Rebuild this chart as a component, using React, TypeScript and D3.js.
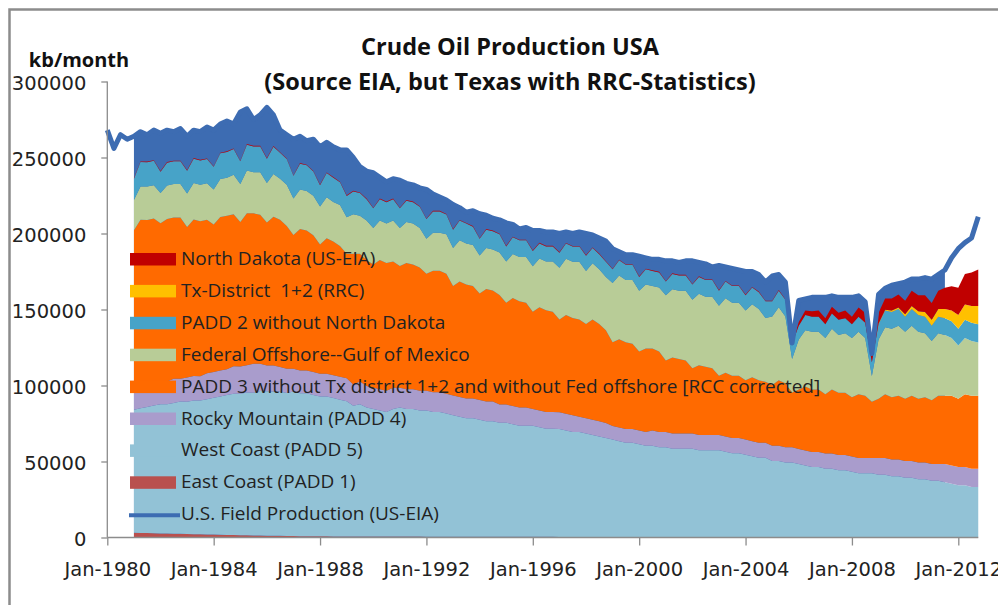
import { useEffect, useRef } from "react";
import * as d3 from "d3";

// Quarterly points (Jan, Apr, Jul, Oct), values in thousand kb/month
// Stacked layers run 1981-01 .. 2012-10, field production 1980-01 .. 2012-10
const stackDates = d3.timeMonth.every(3)!.range(new Date(1981, 0, 1), new Date(2013, 0, 1));
const totalDates = d3.timeMonth.every(3)!.range(new Date(1980, 0, 1), new Date(2013, 0, 1));

const eastCoast = [
  3.1, 3.0, 2.9, 2.8, 2.7, 2.6, 2.5, 2.5, 2.3, 2.2, 2.1, 2.0, 1.9, 1.8, 1.7, 1.6,
  1.5, 1.4, 1.3, 1.3, 1.2, 1.1, 1.1, 1.0, 1.0, 0.9, 0.9, 0.8, 0.8, 0.8, 0.7, 0.7,
  0.7, 0.7, 0.6, 0.6, 0.6, 0.6, 0.6, 0.6, 0.6, 0.6, 0.6, 0.6, 0.5, 0.5, 0.5, 0.5,
  0.5, 0.5, 0.5, 0.5, 0.5, 0.5, 0.5, 0.5, 0.5, 0.5, 0.5, 0.5, 0.5, 0.5, 0.5, 0.5,
  0.4, 0.4, 0.4, 0.4, 0.4, 0.4, 0.4, 0.4, 0.4, 0.4, 0.4, 0.4, 0.4, 0.4, 0.4, 0.4,
  0.4, 0.4, 0.4, 0.4, 0.4, 0.4, 0.4, 0.4, 0.4, 0.4, 0.4, 0.4, 0.4, 0.4, 0.4, 0.4,
  0.4, 0.4, 0.4, 0.4, 0.3, 0.3, 0.3, 0.3, 0.3, 0.3, 0.3, 0.3, 0.3, 0.3, 0.3, 0.3,
  0.3, 0.3, 0.3, 0.3, 0.3, 0.3, 0.3, 0.3, 0.3, 0.3, 0.3, 0.3, 0.3, 0.3, 0.3, 0.3,
];

const westCoast = [
  81, 82, 83, 84, 85, 85, 86, 87, 87, 88, 88, 89, 90, 91, 92, 93,
  93, 94, 94, 95, 95, 95, 95, 94, 95, 94, 94, 93, 92, 92, 91, 90,
  89, 86, 87, 85, 84, 83, 82, 84, 85, 84, 84, 83, 83, 82, 82, 81,
  80, 79, 78, 78, 77, 76, 76, 75, 75, 74, 73, 73, 73, 72, 71, 71,
  71, 70, 69, 69, 68, 67, 66, 65, 64, 63, 62, 62, 61, 60, 60, 59,
  59, 58, 58, 58, 58, 57, 57, 57, 57, 56, 55, 55, 54, 53, 52, 52,
  50, 50, 49, 49, 48, 47, 46, 46, 45, 45, 44, 44, 43, 42, 42, 42,
  41, 41, 40, 40, 39, 39, 38, 38, 37, 37, 36, 35, 34, 34, 33, 33,
];

const rockyMountain = [
  15, 15, 15, 15, 15, 15, 16, 15, 16, 16, 16, 17, 17, 17, 17, 18,
  18, 18, 19, 18, 17, 17, 16, 16, 15, 15, 15, 15, 15, 15, 15, 15,
  15, 14, 15, 14, 14, 14, 14, 14, 13, 13, 13, 13, 13, 13, 13, 13,
  13, 13, 13, 13, 13, 13, 13, 12, 12, 12, 12, 12, 11, 11, 11, 11,
  11, 11, 11, 10, 10, 10, 10, 10, 9, 9, 9, 9, 9, 9, 10, 10,
  10, 10, 10, 10, 10, 10, 10, 10, 10, 10, 10, 10, 10, 10, 10, 10,
  10, 10, 10, 10, 10, 10, 10, 10, 10, 10, 10, 10, 10, 10, 10, 10,
  11, 11, 11, 11, 11, 11, 11, 11, 11, 11, 12, 12, 12, 12, 12, 12,
];

const padd3 = [
  103, 109, 108, 108, 104, 107, 106, 106, 99, 103, 102, 101, 97, 101, 101, 100,
  95, 100, 99, 98, 94, 98, 97, 94, 88, 93, 92, 90, 85, 89, 88, 86,
  82, 86, 84, 83, 81, 85, 84, 83, 80, 83, 82, 81, 77, 80, 80, 79,
  72, 76, 75, 74, 70, 74, 73, 72, 67, 71, 70, 69, 64, 68, 67, 66,
  61, 65, 64, 64, 62, 66, 64, 61, 55, 58, 57, 56, 52, 55, 54, 53,
  47, 50, 49, 48, 43, 46, 45, 44, 39, 42, 41, 41, 39, 42, 41, 40,
  40, 43, 42, 36, 39, 42, 41, 41, 39, 42, 41, 41, 39, 42, 41, 37,
  39, 42, 41, 42, 41, 43, 42, 43, 42, 45, 45, 46, 45, 48, 48, 48,
];

const gulfOffshore = [
  20, 22, 22, 22, 20, 22, 22, 22, 22, 24, 24, 24, 23, 25, 25, 26,
  25, 28, 27, 28, 26, 28, 27, 27, 24, 26, 26, 26, 25, 27, 26, 27,
  24, 26, 25, 26, 24, 26, 26, 27, 25, 27, 27, 26, 23, 25, 25, 26,
  25, 27, 27, 27, 25, 27, 27, 28, 27, 29, 29, 30, 30, 32, 32, 33,
  34, 37, 37, 38, 35, 37, 36, 35, 39, 42, 41, 42, 40, 42, 41, 42,
  43, 45, 45, 46, 45, 47, 46, 47, 46, 49, 48, 48, 46, 48, 47, 42,
  45, 48, 44, 22, 33, 37, 38, 38, 37, 40, 38, 39, 39, 41, 38, 17,
  39, 44, 45, 46, 44, 46, 44, 42, 39, 41, 40, 38, 35, 37, 36, 35,
];

const padd2 = [
  14, 16, 16, 16, 14, 15, 15, 15, 15, 16, 16, 16, 15, 17, 17, 17,
  15, 17, 17, 17, 16, 18, 17, 17, 15, 17, 17, 16, 14, 16, 16, 15,
  14, 15, 15, 14, 13, 14, 14, 14, 13, 14, 14, 14, 13, 14, 14, 13,
  12, 13, 13, 12, 11, 12, 12, 12, 10, 11, 11, 11, 10, 10, 10, 10,
  10, 10, 10, 10, 10, 10, 10, 10, 9, 10, 10, 10, 9, 10, 10, 10,
  9, 10, 10, 10, 10, 11, 11, 11, 10, 11, 11, 11, 10, 11, 11, 11,
  10, 11, 11, 10, 9, 10, 10, 10, 9, 10, 10, 10, 9, 10, 10, 9,
  10, 11, 11, 11, 10, 11, 11, 11, 10, 11, 11, 11, 11, 12, 12, 12,
];

const txDistrict = [
  0, 0, 0, 0, 0, 0, 0, 0, 0, 0, 0, 0, 0, 0, 0, 0,
  0, 0, 0, 0, 0, 0, 0, 0, 0, 0, 0, 0, 0, 0, 0, 0,
  0, 0, 0, 0, 0, 0, 0, 0, 0, 0, 0, 0, 0, 0, 0, 0,
  0, 0, 0, 0, 0, 0, 0, 0, 0, 0, 0, 0, 0, 0, 0, 0,
  0, 0, 0, 0, 0, 0, 0, 0, 0, 0, 0, 0, 0, 0, 0, 0,
  0, 0, 0, 0, 0, 0, 0, 0, 0, 0, 0, 0, 0, 0, 0, 0,
  0, 0, 0, 0, 0, 0, 0, 0, 0, 0, 0, 0, 0, 0, 0, 0,
  0.5, 0.5, 1, 1, 1.5, 2, 2.5, 3, 4, 5, 6, 7, 9, 10, 11, 12,
];

const northDakota = [
  0.4, 0.4, 0.4, 0.4, 0.4, 0.4, 0.4, 0.4, 0.4, 0.4, 0.4, 0.4, 0.4, 0.4, 0.4, 0.4,
  0.4, 0.4, 0.4, 0.4, 0.4, 0.4, 0.4, 0.4, 0.4, 0.4, 0.4, 0.4, 0.4, 0.4, 0.4, 0.4,
  0.4, 0.4, 0.4, 0.4, 0.4, 0.4, 0.4, 0.4, 0.4, 0.4, 0.4, 0.4, 0.4, 0.4, 0.4, 0.4,
  0.4, 0.4, 0.4, 0.4, 0.4, 0.4, 0.4, 0.4, 0.4, 0.4, 0.4, 0.4, 0.4, 0.4, 0.4, 0.4,
  0.4, 0.4, 0.4, 0.4, 0.4, 0.4, 0.4, 0.4, 0.4, 0.4, 0.4, 0.4, 0.4, 0.4, 0.4, 0.4,
  0.4, 0.4, 0.4, 0.4, 0.4, 0.4, 0.4, 0.4, 0.4, 0.4, 0.4, 0.4, 0.4, 0.4, 0.4, 0.4,
  0.4, 0.4, 0.4, 0.4, 2.5, 3, 3.5, 4, 4, 4.5, 4.5, 5, 5, 6, 6.5, 6,
  7, 7.5, 8, 8.5, 9, 10, 10.5, 11, 11, 12, 14, 16, 18, 20, 22, 24,
];

const fieldProduction = [
  268, 256, 265, 262,
  264, 267, 265, 268, 266, 268, 267, 269, 264, 268, 267, 270, 268, 272, 274, 272,
  280, 282, 275, 278, 283, 278, 268, 265, 262, 264, 261, 262, 257, 260, 257, 255,
  255, 250, 244, 241, 240, 237, 234, 236, 235, 233, 232, 230, 229, 226, 224, 222,
  219, 217, 214, 215, 213, 212, 210, 209, 207, 206, 203, 204, 202, 202, 201, 201,
  200, 201, 200, 201, 200, 199, 197, 195, 190, 188, 186, 186, 185, 184, 183, 183,
  182, 182, 181, 182, 182, 181, 180, 178, 179, 178, 177, 176, 175, 175, 173, 168,
  172, 173, 168, 128, 156, 157, 158, 158, 158, 159, 158, 158, 158, 159, 155, 121,
  160, 164, 166, 167, 168, 170, 170, 171, 170, 173, 176, 184, 190, 194, 197, 211,
];

const yTicks = [0, 50000, 100000, 150000, 200000, 250000, 300000];

const series = [
  { key: "eastCoast", values: eastCoast, color: "#b9504e", label: "East Coast (PADD 1)" },
  { key: "westCoast", values: westCoast, color: "#92c2d6", label: "West Coast (PADD 5)" },
  { key: "rocky", values: rockyMountain, color: "#a99ccc", label: "Rocky Mountain (PADD 4)" },
  { key: "padd3", values: padd3, color: "#ff6a00", label: "PADD 3 without Tx district 1+2 and without Fed offshore [RCC corrected]" },
  { key: "gulf", values: gulfOffshore, color: "#b8cc97", label: "Federal Offshore--Gulf of Mexico" },
  { key: "padd2", values: padd2, color: "#47a3c8", label: "PADD 2 without North Dakota" },
  { key: "tx", values: txDistrict, color: "#ffc000", label: "Tx-District  1+2 (RRC)" },
  { key: "nd", values: northDakota, color: "#c00000", label: "North Dakota (US-EIA)" },
];

const TOTAL_COLOR = "#3d6cb2";
const TOTAL_LABEL = "U.S. Field Production (US-EIA)";

const W = 998;
const H = 605;

const App = () => {
  const ref = useRef<SVGSVGElement>(null);

  useEffect(() => {
    const svg = d3.select(ref.current);
    svg.selectAll("*").remove();

    const x = d3.scaleTime()
      .domain([new Date(1980, 0, 1), new Date(2012, 0, 1)])
      .range([107.3, 958.3]);
    const y = d3.scaleLinear().domain([0, 300000]).range([537.5, 81.5]);

    const table = stackDates.map((date, i) => {
      const row: any = { date };
      series.forEach((s) => { row[s.key] = s.values[i] * 1000; });
      return row;
    });
    const totals = totalDates.map((date, i) => ({ date, value: fieldProduction[i] * 1000 }));
    const totalByTime = new Map(totals.map((t) => [+t.date, t.value]));

    const stack = d3.stack<any>().keys(series.map((s) => s.key));
    const layers = stack(table);

    // frame
    svg.append("path")
      .attr("d", `M9.5,${H} V9.5 H${W}`)
      .attr("fill", "none")
      .attr("stroke", "#8c8c8c")
      .attr("stroke-width", 2.5);

    // dark band between stacked top and field production
    const cutoff = new Date(2011, 6, 1);
    const band = d3.area<any>()
      .defined((d) => d.date <= cutoff)
      .x((d) => x(d.date))
      .y0(y(0))
      .y1((d) => y(totalByTime.get(+d.date) ?? 0));
    svg.append("path").datum(table).attr("d", band).attr("fill", TOTAL_COLOR);

    const area = d3.area<any>()
      .x((d) => x(d.data.date))
      .y0((d) => y(d[0]))
      .y1((d) => y(d[1]));

    svg.append("g")
      .selectAll("path")
      .data(layers)
      .join("path")
      .attr("d", area)
      .attr("fill", (d, i) => series[i].color);

    const line = d3.line<any>().x((d) => x(d.date)).y((d) => y(d.value));
    svg.append("path")
      .datum(totals)
      .attr("d", line)
      .attr("fill", "none")
      .attr("stroke", TOTAL_COLOR)
      .attr("stroke-width", 5)
      .attr("stroke-linejoin", "round");

    // axes
    const yAxis = svg.append("g")
      .attr("transform", "translate(107.3,0)")
      .call(d3.axisLeft(y).tickValues(yTicks).tickFormat(d3.format("d")).tickSize(6).tickPadding(15));
    yAxis.select(".domain").remove();
    yAxis.selectAll("line").attr("stroke", "#8c8c8c").attr("stroke-width", 1.3);
    yAxis.selectAll("text")
      .attr("font-family", "DejaVu Sans")
      .attr("font-size", 19.5)
      .attr("fill", "#222")
      .attr("dy", "0.4em");
    svg.append("line")
      .attr("x1", 107.3).attr("x2", 107.3)
      .attr("y1", y(300000)).attr("y2", y(0))
      .attr("stroke", "#8c8c8c").attr("stroke-width", 1.3);

    const xAxis = svg.append("g")
      .attr("transform", `translate(0,${y(0)})`)
      .call(
        d3.axisBottom(x)
          .ticks(d3.timeYear.every(4))
          .tickFormat((d: any) => d3.timeFormat("%b-%Y")(d))
          .tickSize(8)
          .tickPadding(17)
      );
    xAxis.select(".domain").remove();
    xAxis.selectAll("line").attr("stroke", "#8c8c8c").attr("stroke-width", 1.3);
    xAxis.selectAll("text")
      .attr("font-family", "DejaVu Sans")
      .attr("font-size", 19.5)
      .attr("fill", "#222");
    svg.append("line")
      .attr("x1", x(totalDates[0])).attr("x2", x(stackDates[stackDates.length - 1]))
      .attr("y1", y(0)).attr("y2", y(0))
      .attr("stroke", "#8c8c8c").attr("stroke-width", 1.3);

    // titles
    const title = svg.append("g")
      .attr("font-family", "Open Sans")
      .attr("font-weight", "bold")
      .attr("fill", "#111")
      .attr("text-anchor", "middle");
    title.append("text").attr("x", 510).attr("y", 55).attr("font-size", 23.5).text("Crude Oil Production USA");
    title.append("text").attr("x", 510).attr("y", 90).attr("font-size", 23.5).text("(Source EIA, but Texas with RRC-Statistics)");

    svg.append("text")
      .attr("x", 79).attr("y", 67)
      .attr("text-anchor", "middle")
      .attr("font-family", "Open Sans")
      .attr("font-weight", "bold")
      .attr("font-size", 20)
      .attr("fill", "#111")
      .text("kb/month");

    // legend
    const legend = svg.append("g")
      .attr("font-family", "Open Sans")
      .attr("font-size", 19);
    const entries = [...series].reverse();
    entries.forEach((s, i) => {
      const base = 265 + i * 31.9;
      legend.append("rect")
        .attr("x", 130).attr("y", base - 12)
        .attr("width", 46).attr("height", 12.5)
        .attr("fill", s.color);
      legend.append("text")
        .attr("x", 181).attr("y", base)
        .attr("fill", "#222")
        .attr("xml:space", "preserve")
        .style("white-space", "pre")
        .text(s.label);
    });
    const lastBase = 265 + entries.length * 31.9;
    legend.append("line")
      .attr("x1", 129).attr("x2", 180)
      .attr("y1", lastBase - 5).attr("y2", lastBase - 5)
      .attr("stroke", TOTAL_COLOR).attr("stroke-width", 4);
    legend.append("text").attr("x", 181).attr("y", lastBase).attr("fill", "#222").text(TOTAL_LABEL);
  }, []);

  return (
    <svg
      ref={ref}
      width={W}
      height={H}
      style={{ position: "absolute", left: 0, top: 0, background: "#fff" }}
    />
  );
};

export default App;
